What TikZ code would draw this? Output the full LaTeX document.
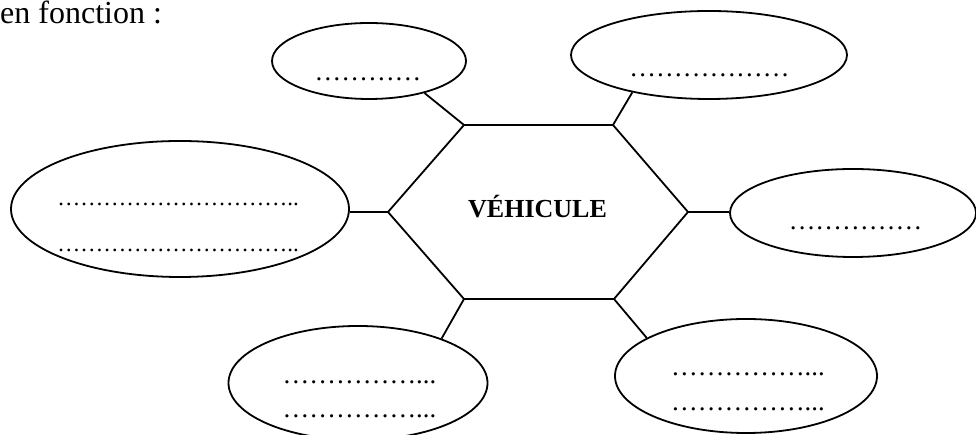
\documentclass[tikz,border=0pt]{standalone}
\usepackage{fontspec}
\setmainfont{Liberation Serif}
\usetikzlibrary{shapes.geometric}
\tikzset{
  bubble/.style={draw, ellipse, line width=1.8pt, inner sep=0pt},
  link/.style={line width=1.8pt},
  dotsA/.style={anchor=base, inner sep=0pt, font=\fontsize{26.7}{32}\selectfont},
  dotsB/.style={anchor=base, inner sep=0pt, font=\fontsize{23}{28}\selectfont},
}
\begin{document}
\begin{tikzpicture}[x=1pt,y=1pt]
\useasboundingbox (0,0) rectangle (976,435);
% title
\node[anchor=base west, inner sep=0pt, text height=23pt, font=\fontsize{32}{40}\selectfont] (title) at (0,411) {en fonction :};
% hexagon
\coordinate (hl)  at (388,223);
\coordinate (hul) at (464,310);
\coordinate (hur) at (613,310);
\coordinate (hr)  at (688,223);
\coordinate (hlr) at (614,136);
\coordinate (hll) at (464,136);
\draw[link, line join=miter] (hl) -- (hul) -- (hur) -- (hr) -- (hlr) -- (hll) -- cycle;
\node[anchor=base, inner sep=0pt, font=\fontsize{26}{31}\selectfont\bfseries] (veh) at (537.5,217) {VÉHICULE};
% ellipses
\node[bubble, minimum width=194pt, minimum height=76pt]  (tl)  at (369,374) {};
\node[bubble, minimum width=276pt, minimum height=88pt]  (tr)  at (709,380) {};
\node[bubble, minimum width=338pt, minimum height=136pt] (lft) at (180,226) {};
\node[bubble, minimum width=246pt, minimum height=88pt]  (rgt) at (853,222) {};
\node[bubble, minimum width=259pt, minimum height=114pt] (bl)  at (358,52) {};
\node[bubble, minimum width=262pt, minimum height=114pt] (br)  at (746,59) {};
% texts
\node[dotsA] (ttl)  at (368,354.5)   {…………};
\node[dotsA] (ttr)  at (709.5,358.5) {………………};
\node[dotsB] (tlf1) at (178,229.5)   {…………………………..};
\node[dotsB] (tlf2) at (178,183.5)   {…………………………..};
\node[dotsA] (trg)  at (855.5,205.5) {……………};
\node[dotsA] (tbl1) at (359.5,51.5)  {……………...};
\node[dotsA] (tbl2) at (359.5,17.5)  {……………...};
\node[dotsA] (tbr1) at (748,59.5)    {……………...};
\node[dotsA] (tbr2) at (748,24.5)    {……………...};
% connectors
\draw[link] (hul) -- (tl.-30);
\draw[link] (hur) -- (tr.-154);
\draw[link] (hl) -- (hl -| lft.east);
\draw[link] (hr) -- (hr -| rgt.west);
\draw[link] (hll) -- (bl.28);
\draw[link] (hlr) -- (br.159);
\end{tikzpicture}
\end{document}
